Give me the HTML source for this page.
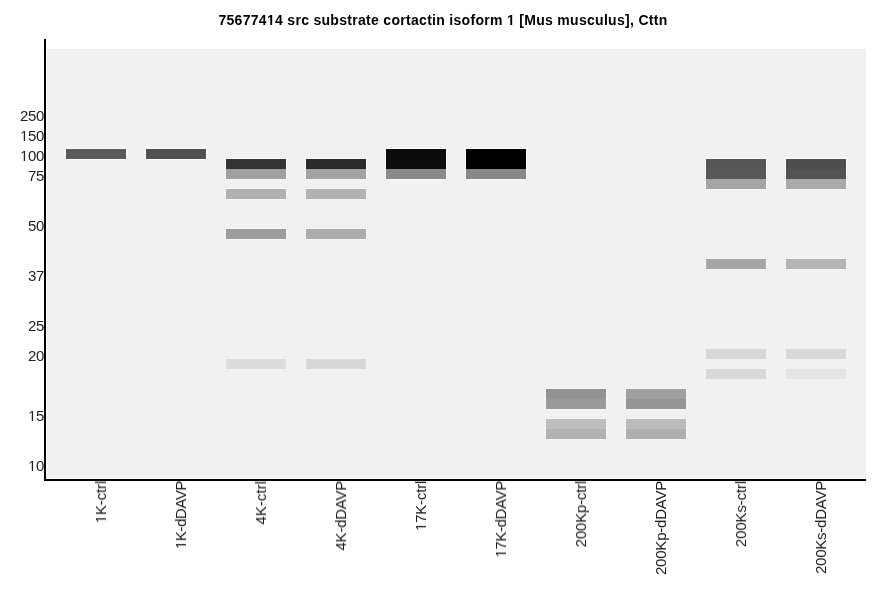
<!DOCTYPE html>
<html><head><meta charset="utf-8"><style>
html,body{margin:0;padding:0;background:#fff;}
body{width:886px;height:595px;position:relative;overflow:hidden;font-family:"Liberation Sans",Arial,sans-serif;color:#000;}
.title{position:absolute;left:0;width:886px;top:12px;will-change:transform;text-align:center;font-weight:bold;font-size:14px;line-height:16px;letter-spacing:0.3px;}
.gel{position:absolute;left:47px;top:49px;width:819px;height:429px;background:#eff2f1;}
.ax{position:absolute;background:#000;}
.b{position:absolute;width:60px;}
.h{position:absolute;width:62px;}
.yl{position:absolute;right:842px;will-change:transform;letter-spacing:-0.3px;font-size:15px;line-height:16px;text-align:right;color:#222;}
.o{display:inline-block;clip-path:polygon(0 0,100% 0,100% 12px,5.1px 12px,5.1px 100%,3.77px 100%,3.77px 12px,0 12px);}
.ob{display:inline-block;clip-path:polygon(0 0,100% 0,100% 11px,5.19px 11px,5.19px 100%,3.27px 100%,3.27px 11px,0 11px);}
.xl{position:absolute;will-change:transform;top:481px;font-size:15px;line-height:16px;white-space:nowrap;transform-origin:0 0;transform:rotate(-90deg) translate(-100%,-50%);text-align:right;color:#1a1a1a;}
</style></head><body>
<div class="title">756774<span class="ob" style="letter-spacing:0.300px">1</span>4 src substrate cortactin isoform <span class="ob" style="letter-spacing:0.300px">1</span> [Mus musculus], Cttn</div>
<div class="gel"></div>
<div class="h" style="left:65px;top:148px;height:12px;background:rgba(255,255,255,0.75)"></div>
<div class="h" style="left:145px;top:148px;height:12px;background:rgba(255,255,255,0.75)"></div>
<div class="h" style="left:225px;top:158px;height:12px;background:rgba(255,255,255,0.75)"></div>
<div class="h" style="left:225px;top:168px;height:12px;background:rgba(255,255,255,0.44)"></div>
<div class="h" style="left:225px;top:188px;height:12px;background:rgba(255,255,255,0.36)"></div>
<div class="h" style="left:225px;top:228px;height:12px;background:rgba(255,255,255,0.47)"></div>
<div class="h" style="left:225px;top:358px;height:12px;background:rgba(255,255,255,0.11)"></div>
<div class="h" style="left:305px;top:158px;height:12px;background:rgba(255,255,255,0.75)"></div>
<div class="h" style="left:305px;top:168px;height:12px;background:rgba(255,255,255,0.43)"></div>
<div class="h" style="left:305px;top:188px;height:12px;background:rgba(255,255,255,0.34)"></div>
<div class="h" style="left:305px;top:228px;height:12px;background:rgba(255,255,255,0.38)"></div>
<div class="h" style="left:305px;top:358px;height:12px;background:rgba(255,255,255,0.13)"></div>
<div class="h" style="left:385px;top:148px;height:12px;background:rgba(255,255,255,0.75)"></div>
<div class="h" style="left:385px;top:158px;height:12px;background:rgba(255,255,255,0.75)"></div>
<div class="h" style="left:385px;top:168px;height:12px;background:rgba(255,255,255,0.57)"></div>
<div class="h" style="left:465px;top:148px;height:22px;background:rgba(255,255,255,0.75)"></div>
<div class="h" style="left:465px;top:168px;height:12px;background:rgba(255,255,255,0.58)"></div>
<div class="h" style="left:545px;top:388px;height:12px;background:rgba(255,255,255,0.52)"></div>
<div class="h" style="left:545px;top:398px;height:12px;background:rgba(255,255,255,0.48)"></div>
<div class="h" style="left:545px;top:418px;height:12px;background:rgba(255,255,255,0.28)"></div>
<div class="h" style="left:545px;top:428px;height:12px;background:rgba(255,255,255,0.35)"></div>
<div class="h" style="left:625px;top:388px;height:12px;background:rgba(255,255,255,0.44)"></div>
<div class="h" style="left:625px;top:398px;height:12px;background:rgba(255,255,255,0.51)"></div>
<div class="h" style="left:625px;top:418px;height:12px;background:rgba(255,255,255,0.29)"></div>
<div class="h" style="left:625px;top:428px;height:12px;background:rgba(255,255,255,0.36)"></div>
<div class="h" style="left:705px;top:158px;height:12px;background:rgba(255,255,255,0.75)"></div>
<div class="h" style="left:705px;top:168px;height:12px;background:rgba(255,255,255,0.75)"></div>
<div class="h" style="left:705px;top:178px;height:12px;background:rgba(255,255,255,0.42)"></div>
<div class="h" style="left:705px;top:258px;height:12px;background:rgba(255,255,255,0.41)"></div>
<div class="h" style="left:705px;top:348px;height:12px;background:rgba(255,255,255,0.14)"></div>
<div class="h" style="left:705px;top:368px;height:12px;background:rgba(255,255,255,0.13)"></div>
<div class="h" style="left:785px;top:158px;height:12px;background:rgba(255,255,255,0.75)"></div>
<div class="h" style="left:785px;top:168px;height:12px;background:rgba(255,255,255,0.75)"></div>
<div class="h" style="left:785px;top:178px;height:12px;background:rgba(255,255,255,0.39)"></div>
<div class="h" style="left:785px;top:258px;height:12px;background:rgba(255,255,255,0.33)"></div>
<div class="h" style="left:785px;top:348px;height:12px;background:rgba(255,255,255,0.13)"></div>
<div class="h" style="left:785px;top:368px;height:12px;background:rgba(255,255,255,0.07)"></div>
<div class="b" style="left:66px;top:149px;height:10px;background:#595a59"></div>
<div class="b" style="left:146px;top:149px;height:10px;background:#505050"></div>
<div class="b" style="left:226px;top:159px;height:10px;background:#333333"></div>
<div class="b" style="left:226px;top:169px;height:10px;background:#a0a0a0"></div>
<div class="b" style="left:226px;top:189px;height:10px;background:#b0b0b0"></div>
<div class="b" style="left:226px;top:229px;height:10px;background:#9c9c9c"></div>
<div class="b" style="left:226px;top:359px;height:10px;background:#dcdcdc"></div>
<div class="b" style="left:306px;top:159px;height:10px;background:#2a2a2a"></div>
<div class="b" style="left:306px;top:169px;height:10px;background:#a3a3a3"></div>
<div class="b" style="left:306px;top:189px;height:10px;background:#b2b2b2"></div>
<div class="b" style="left:306px;top:229px;height:10px;background:#acacac"></div>
<div class="b" style="left:306px;top:359px;height:10px;background:#d8d8d8"></div>
<div class="b" style="left:386px;top:149px;height:10px;background:#0a0b0a"></div>
<div class="b" style="left:386px;top:159px;height:10px;background:#0d0e0d"></div>
<div class="b" style="left:386px;top:169px;height:10px;background:#8a8a8a"></div>
<div class="b" style="left:466px;top:149px;height:20px;background:#000000"></div>
<div class="b" style="left:466px;top:169px;height:10px;background:#888888"></div>
<div class="b" style="left:546px;top:389px;height:10px;background:#939393"></div>
<div class="b" style="left:546px;top:399px;height:10px;background:#9a9a9a"></div>
<div class="b" style="left:546px;top:419px;height:10px;background:#bebebe"></div>
<div class="b" style="left:546px;top:429px;height:10px;background:#b0b1b0"></div>
<div class="b" style="left:626px;top:389px;height:10px;background:#a0a0a0"></div>
<div class="b" style="left:626px;top:399px;height:10px;background:#959595"></div>
<div class="b" style="left:626px;top:419px;height:10px;background:#bbbbbb"></div>
<div class="b" style="left:626px;top:429px;height:10px;background:#afafaf"></div>
<div class="b" style="left:706px;top:159px;height:10px;background:#555555"></div>
<div class="b" style="left:706px;top:169px;height:10px;background:#585858"></div>
<div class="b" style="left:706px;top:179px;height:10px;background:#a4a4a4"></div>
<div class="b" style="left:706px;top:259px;height:10px;background:#a6a6a6"></div>
<div class="b" style="left:706px;top:349px;height:10px;background:#d6d7d6"></div>
<div class="b" style="left:706px;top:369px;height:10px;background:#d8d8d8"></div>
<div class="b" style="left:786px;top:159px;height:10px;background:#4d4f4e"></div>
<div class="b" style="left:786px;top:169px;height:10px;background:#525453"></div>
<div class="b" style="left:786px;top:179px;height:10px;background:#aaaaaa"></div>
<div class="b" style="left:786px;top:259px;height:10px;background:#b4b4b4"></div>
<div class="b" style="left:786px;top:349px;height:10px;background:#d8d9d8"></div>
<div class="b" style="left:786px;top:369px;height:10px;background:#e4e4e4"></div>
<div class="ax" style="left:44px;top:39px;width:2px;height:442px"></div>
<div class="ax" style="left:44px;top:479px;width:822px;height:2px"></div>
<div class="yl" style="top:107.5px">250</div>
<div class="yl" style="top:127.5px"><span class="o" style="letter-spacing:-0.300px">1</span>50</div>
<div class="yl" style="top:147.5px"><span class="o" style="letter-spacing:-0.300px">1</span>00</div>
<div class="yl" style="top:167.5px">75</div>
<div class="yl" style="top:217.5px">50</div>
<div class="yl" style="top:267.5px">37</div>
<div class="yl" style="top:317.5px">25</div>
<div class="yl" style="top:347.5px">20</div>
<div class="yl" style="top:407.5px"><span class="o" style="letter-spacing:-0.300px">1</span>5</div>
<div class="yl" style="top:457.5px"><span class="o" style="letter-spacing:-0.300px">1</span>0</div>
<div class="xl" style="left:100.5px;letter-spacing:-0.143px"><span class="o" style="letter-spacing:-0.143px">1</span>K-ctrl</div>
<div class="xl" style="left:180.5px;letter-spacing:-0.406px"><span class="o" style="letter-spacing:-0.406px">1</span>K-dDAVP</div>
<div class="xl" style="left:260.5px;letter-spacing:0.04px">4K-ctrl</div>
<div class="xl" style="left:340.5px;letter-spacing:-0.234px">4K-dDAVP</div>
<div class="xl" style="left:420.5px;letter-spacing:-0.2px"><span class="o" style="letter-spacing:-0.200px">1</span>7K-ctrl</div>
<div class="xl" style="left:500.5px;letter-spacing:-0.349px"><span class="o" style="letter-spacing:-0.349px">1</span>7K-dDAVP</div>
<div class="xl" style="left:580.5px;letter-spacing:-0.198px">200Kp-ctrl</div>
<div class="xl" style="left:660.5px;letter-spacing:-0.225px">200Kp-dDAVP</div>
<div class="xl" style="left:740.5px;letter-spacing:-0.134px">200Ks-ctrl</div>
<div class="xl" style="left:820.5px;letter-spacing:-0.245px">200Ks-dDAVP</div>
</body></html>
